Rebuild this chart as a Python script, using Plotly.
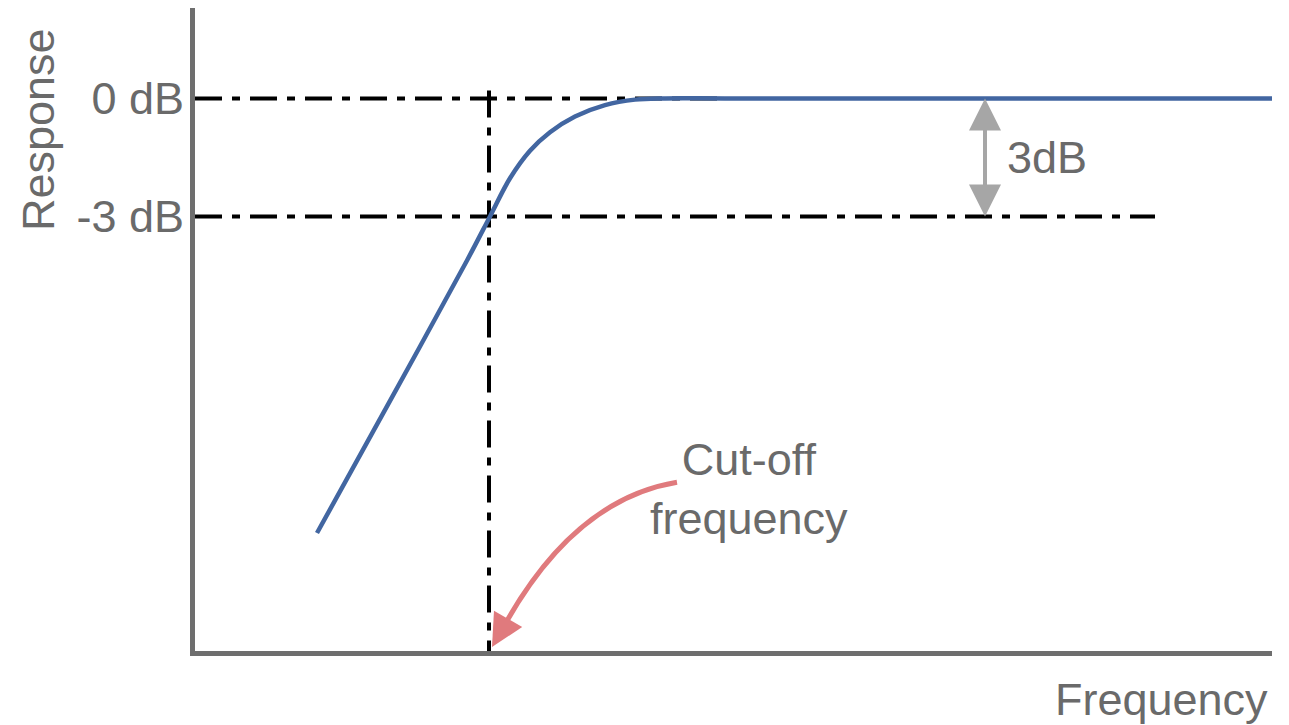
import plotly.graph_objects as go

# ---- data (frequency in arbitrary linear units, response in dB) ----
freq = [122, 195, 272, 295, 315, 335, 355, 380, 410, 440, 470, 530, 1077]
resp = [-11.05, -7.69, -4.12, -3.0, -2.03, -1.33, -0.86, -0.46, -0.17, -0.03, 0.0, 0.0, 0.0]

tick_vals = [0, -3]
tick_text = ["0 dB", "-3 dB"]

cutoff_freq = 294
ref_db = 0
cut_db = -3
line0_end = 527      # end of 0 dB guide line
line3_end = 960      # end of -3 dB guide line
vline_top = 0.2
gap_arrow_x = 790

x_range = [0, 1077]
y_range = [-14.05, 2.30]

FONT = "Liberation Sans, Arial, sans-serif"
FS = 45
TXT = "#6a6a6a"
DASH = "27px,10px,8px,10px"

fig = go.Figure()

# guide lines
fig.add_trace(go.Scatter(x=[0, line0_end], y=[ref_db, ref_db], mode="lines",
                         line=dict(color="black", width=4, dash=DASH), hoverinfo="skip"))
fig.add_trace(go.Scatter(x=[0, line3_end], y=[cut_db, cut_db], mode="lines",
                         line=dict(color="black", width=4, dash=DASH), hoverinfo="skip"))
fig.add_trace(go.Scatter(x=[cutoff_freq, cutoff_freq], y=[vline_top, y_range[0]], mode="lines",
                         line=dict(color="black", width=4, dash=DASH), hoverinfo="skip"))

# response curve
fig.add_trace(go.Scatter(x=freq, y=resp, mode="lines",
                         line=dict(color="#4266a1", width=4.5, shape="spline", smoothing=1.0),
                         hoverinfo="skip"))

# 3 dB double arrow (two overlapping halves so the shaft is continuous)
mid_db = (ref_db + cut_db) / 2
for tip, tail in ((ref_db, mid_db - 0.5), (cut_db, mid_db + 0.5)):
    fig.add_annotation(x=gap_arrow_x, y=tip, ax=gap_arrow_x, ay=tail,
                       xref="x", yref="y", axref="x", ayref="y",
                       text="", showarrow=True, arrowhead=2, arrowsize=1.6,
                       arrowwidth=4, arrowcolor="#a6a6a6", standoff=0, startstandoff=0)
fig.add_annotation(x=810, y=mid_db, xref="x", yref="y", text="3dB", showarrow=False,
                   xanchor="left", yanchor="middle", font=dict(family=FONT, size=FS, color=TXT))

# red curved arrow toward cut-off frequency
p0 = (482, -9.76)
p1 = (380, -10.19)
p2 = (310, -13.37)
fig.add_shape(type="path", xref="x", yref="y",
              path=f"M {p0[0]},{p0[1]} Q {p1[0]},{p1[1]} {p2[0]},{p2[1]}",
              line=dict(color="#e07a7d", width=5))
fig.add_annotation(x=cutoff_freq + 3, y=-13.95, ax=p2[0], ay=p2[1],
                   xref="x", yref="y", axref="x", ayref="y",
                   text="", showarrow=True, arrowhead=2, arrowsize=1.3,
                   arrowwidth=5, arrowcolor="#e07a7d", standoff=0, startstandoff=0)
fig.add_annotation(x=554, y=-9.94, xref="x", yref="y", text="Cut-off<br>frequency",
                   showarrow=False, align="center", xanchor="center", yanchor="middle",
                   font=dict(family=FONT, size=FS, color=TXT))

# axis titles
fig.add_annotation(x=-0.1458, y=0.8118, xref="paper", yref="paper", text="Response",
                   textangle=-90, showarrow=False, xanchor="center", yanchor="middle",
                   font=dict(family=FONT, size=FS, color=TXT))
fig.add_annotation(x=0.998, y=-0.0762, xref="paper", yref="paper", text="Frequency",
                   showarrow=False, xanchor="right", yanchor="middle",
                   font=dict(family=FONT, size=FS, color=TXT))

# the page body adds an 8px offset, so margins are shifted accordingly
fig.update_layout(
    width=1289, height=725,
    margin=dict(l=187, r=25, t=0, b=82, autoexpand=False),
    paper_bgcolor="white", plot_bgcolor="white",
    showlegend=False, hovermode=False,
    xaxis=dict(range=x_range, showgrid=False, zeroline=False, showticklabels=False,
               ticks="", showline=True, linecolor="#6e6e6e", linewidth=5),
    yaxis=dict(range=y_range, showgrid=False, zeroline=False, tickvals=tick_vals,
               ticktext=tick_text, ticks="", showline=True, linecolor="#6e6e6e",
               linewidth=5, ticklabelstandoff=-3, automargin=False,
               tickfont=dict(family=FONT, size=FS, color=TXT)),
)

fig.write_html("out.html")
